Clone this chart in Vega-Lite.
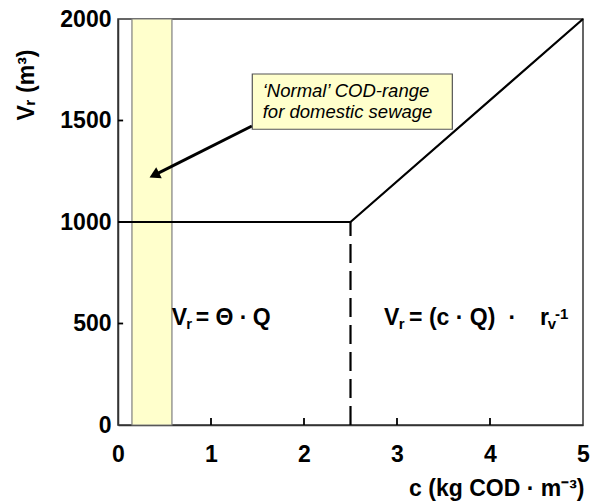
{
  "$schema": "https://vega.github.io/schema/vega-lite/v6.json",
  "width": 465,
  "height": 406,
  "autosize": {"type": "none"},
  "padding": {"left": 118, "top": 19, "right": 7, "bottom": 79},
  "background": "white",
  "config": {
    "view": {"stroke": "#333333", "strokeWidth": 1.5},
    "font": "Liberation Sans",
    "axis": {
      "grid": false,
      "ticks": false,
      "domainColor": "#333333",
      "domainWidth": 1.5,
      "labelFont": "Liberation Sans",
      "labelFontWeight": "bold",
      "labelFontSize": 23,
      "labelColor": "#000000",
      "titleFont": "Liberation Sans",
      "titleFontWeight": "bold",
      "titleFontSize": 23,
      "titleColor": "#000000"
    }
  },
  "datasets": {
    "band": [{"c0": 0.15, "c1": 0.58, "v0": 0, "v1": 2000}],
    "curve": [
      {"c": 0, "v": 1000, "k": 0},
      {"c": 2.5, "v": 1000, "k": 1},
      {"c": 5, "v": 2000, "k": 2}
    ],
    "split": [{"c": 2.5, "v0": 0, "v1": 1000}],
    "xTicks": [
      {"c": 1, "v0": 0, "v1": 35},
      {"c": 2, "v0": 0, "v1": 35},
      {"c": 3, "v0": 0, "v1": 35},
      {"c": 4, "v0": 0, "v1": 35}
    ],
    "yTicks": [
      {"v": 500, "c0": 0, "c1": 0.055},
      {"v": 1000, "c0": 0, "c1": 0.055},
      {"v": 1500, "c0": 0, "c1": 0.055}
    ],
    "note": [{"c0": 1.444, "c1": 3.595, "v0": 1457, "v1": 1729}],
    "noteText": [
      {"c": 1.556, "v": 1617, "t": "‘Normal’ COD-range"},
      {"c": 1.556, "v": 1510, "t": "for domestic sewage"}
    ],
    "arrow": [
      {"c": 1.44, "v": 1473, "k": 0},
      {"c": 0.39, "v": 1231, "k": 1}
    ],
    "head": [{"c": 0.39, "v": 1231}],
    "eqMain": [
      {"c": 0.577, "v": 495, "t": "V"},
      {"c": 0.835, "v": 495, "t": "= Θ ·"},
      {"c": 1.45, "v": 495, "t": "Q"},
      {"c": 2.86, "v": 495, "t": "V"},
      {"c": 3.13, "v": 495, "t": "= (c · Q)"},
      {"c": 4.2, "v": 495, "t": "·"},
      {"c": 4.538, "v": 495, "t": "r"}
    ],
    "eqSub": [
      {"c": 0.735, "v": 473, "t": "r"},
      {"c": 3.018, "v": 473, "t": "r"},
      {"c": 4.62, "v": 473, "t": "v"}
    ],
    "eqSup": [
      {"c": 4.70, "v": 524, "t": "-1"}
    ]
  },
  "layer": [
    {
      "data": {"name": "band"},
      "mark": {"type": "rect", "fill": "#ffffcc", "stroke": "#7f7f7f", "strokeWidth": 1.2},
      "encoding": {
        "x": {
          "field": "c0", "type": "quantitative",
          "scale": {"domain": [0, 5], "nice": false},
          "axis": {
            "values": [0, 1, 2, 3, 4, 5],
            "format": "d",
            "labelPadding": 18,
            "labelFlush": false,
            "title": "c (kg COD · m⁻³)",
            "titleX": 466,
            "titleY": 70,
            "titleAlign": "right",
            "titleBaseline": "alphabetic"
          }
        },
        "x2": {"field": "c1"},
        "y": {
          "field": "v0", "type": "quantitative",
          "scale": {"domain": [0, 2000], "nice": false},
          "axis": {
            "values": [0, 500, 1000, 1500, 2000],
            "format": "d",
            "labelPadding": 7,
            "labelFlush": false,
            "title": "Vᵣ (m³)",
            "titleAngle": -90,
            "titleX": -92,
            "titleY": 101,
            "titleAlign": "left",
            "titleBaseline": "middle"
          }
        },
        "y2": {"field": "v1"}
      }
    },
    {
      "data": {"name": "xTicks"},
      "mark": {"type": "rule", "strokeWidth": 1.8, "color": "#000000"},
      "encoding": {
        "x": {"field": "c", "type": "quantitative"},
        "y": {"field": "v0", "type": "quantitative"},
        "y2": {"field": "v1"}
      }
    },
    {
      "data": {"name": "yTicks"},
      "mark": {"type": "rule", "strokeWidth": 1.8, "color": "#000000"},
      "encoding": {
        "x": {"field": "c0", "type": "quantitative"},
        "x2": {"field": "c1"},
        "y": {"field": "v", "type": "quantitative"}
      }
    },
    {
      "data": {"name": "curve"},
      "mark": {"type": "line", "color": "#000000", "strokeWidth": 2.2},
      "encoding": {
        "x": {"field": "c", "type": "quantitative"},
        "y": {"field": "v", "type": "quantitative"},
        "order": {"field": "k"}
      }
    },
    {
      "data": {"name": "split"},
      "mark": {"type": "rule", "color": "#000000", "strokeWidth": 2.2, "strokeDash": [19, 8]},
      "encoding": {
        "x": {"field": "c", "type": "quantitative"},
        "y": {"field": "v0", "type": "quantitative"},
        "y2": {"field": "v1"}
      }
    },
    {
      "data": {"name": "arrow"},
      "mark": {"type": "line", "color": "#000000", "strokeWidth": 3},
      "encoding": {
        "x": {"field": "c", "type": "quantitative"},
        "y": {"field": "v", "type": "quantitative"},
        "order": {"field": "k"}
      }
    },
    {
      "data": {"name": "head"},
      "mark": {"type": "point", "shape": "triangle-up", "filled": true, "color": "#000000", "opacity": 1, "size": 150, "angle": 243},
      "encoding": {
        "x": {"field": "c", "type": "quantitative"},
        "y": {"field": "v", "type": "quantitative"}
      }
    },
    {
      "data": {"name": "note"},
      "mark": {"type": "rect", "fill": "#ffffcc", "stroke": "#555555", "strokeWidth": 1.2},
      "encoding": {
        "x": {"field": "c0", "type": "quantitative"},
        "x2": {"field": "c1"},
        "y": {"field": "v0", "type": "quantitative"},
        "y2": {"field": "v1"}
      }
    },
    {
      "data": {"name": "noteText"},
      "mark": {"type": "text", "align": "left", "baseline": "alphabetic", "font": "Liberation Sans", "fontStyle": "italic", "fontSize": 18.5, "color": "#000000"},
      "encoding": {
        "x": {"field": "c", "type": "quantitative"},
        "y": {"field": "v", "type": "quantitative"},
        "text": {"field": "t"}
      }
    },
    {
      "data": {"name": "eqMain"},
      "mark": {"type": "text", "align": "left", "baseline": "alphabetic", "font": "Liberation Sans", "fontWeight": "bold", "fontSize": 23, "color": "#000000"},
      "encoding": {
        "x": {"field": "c", "type": "quantitative"},
        "y": {"field": "v", "type": "quantitative"},
        "text": {"field": "t"}
      }
    },
    {
      "data": {"name": "eqSub"},
      "mark": {"type": "text", "align": "left", "baseline": "alphabetic", "font": "Liberation Sans", "fontWeight": "bold", "fontSize": 15, "color": "#000000"},
      "encoding": {
        "x": {"field": "c", "type": "quantitative"},
        "y": {"field": "v", "type": "quantitative"},
        "text": {"field": "t"}
      }
    },
    {
      "data": {"name": "eqSup"},
      "mark": {"type": "text", "align": "left", "baseline": "alphabetic", "font": "Liberation Sans", "fontWeight": "bold", "fontSize": 15, "color": "#000000"},
      "encoding": {
        "x": {"field": "c", "type": "quantitative"},
        "y": {"field": "v", "type": "quantitative"},
        "text": {"field": "t"}
      }
    }
  ]
}
